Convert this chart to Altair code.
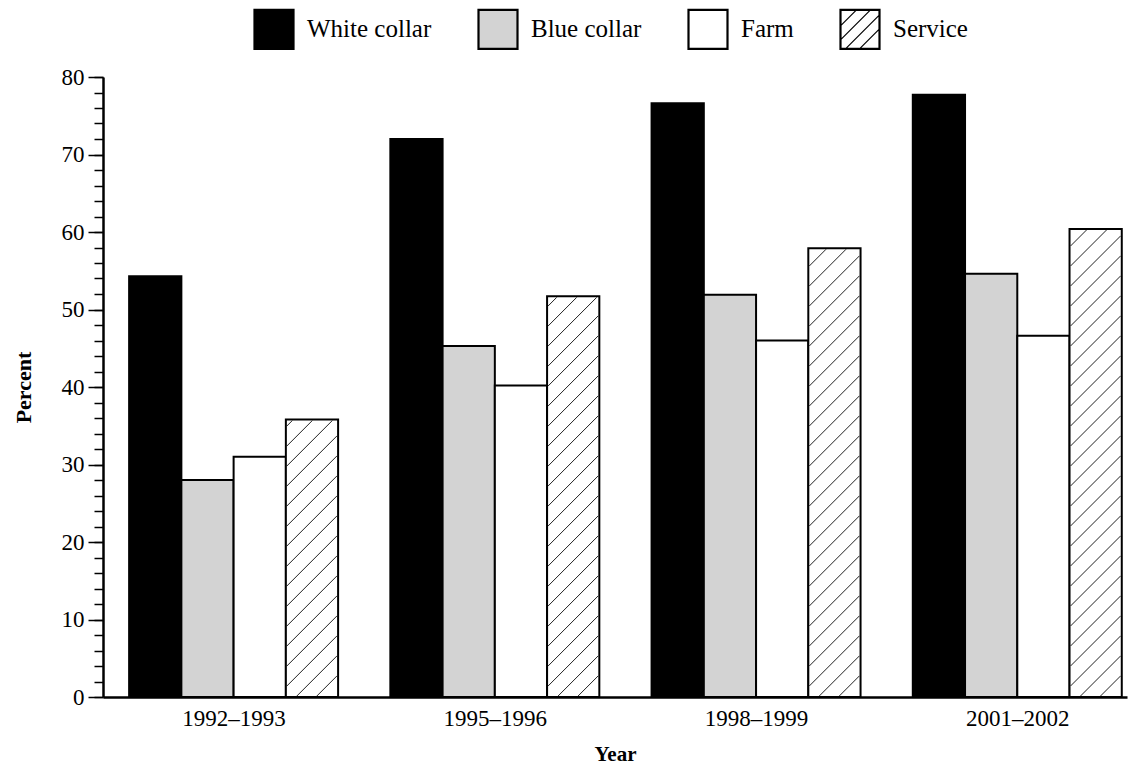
import altair as alt
import pandas as pd

# ---- data ----
years = ["1992–1993", "1995–1996", "1998–1999", "2001–2002"]
categories = ["White collar", "Blue collar", "Farm", "Service"]
white_collar = [54.3, 72.0, 76.6, 77.7]
blue_collar = [28.0, 45.3, 51.9, 54.6]
farm = [31.0, 40.2, 46.0, 46.6]
service = [35.8, 51.7, 57.9, 60.4]
y_major = list(range(0, 81, 10))
y_minor = list(range(0, 81, 2))

# ---- styling / layout ----
FONT = "Liberation Serif"
colors = ["#000000", "#d3d3d3", "#ffffff", "#ffffff"]
W, H = 1024, 620
x_domain = [-0.5, 3.42]
y_domain = [0, 80]
bar_w = 0.2
px_x = W / (x_domain[1] - x_domain[0])
px_y = H / (y_domain[1] - y_domain[0])

series = [white_collar, blue_collar, farm, service]
rows = []
for i, yr in enumerate(years):
    for j, cat in enumerate(categories):
        x0 = i + (j - 2) * bar_w
        rows.append(dict(year=yr, category=cat, value=series[j][i], x0=x0, x1=x0 + bar_w))
df = pd.DataFrame(rows)

# hatch lines for the Service bars (45 degrees in pixel space), derived from the bar values
spacing, phase, inset = 20.0, -10.0, 1.0
hatch = []
svc = df[df["category"] == "Service"]
for _, r in svc.iterrows():
    Wb = (r["x1"] - r["x0"]) * px_x
    Hb = r["value"] * px_y
    for n in range(-20, 60):
        k = phase + spacing * n
        xa = max(inset, inset - k)
        xb = min(Wb - inset, Hb - inset - k)
        if xb - xa > 0.5:
            hatch.append(dict(xa=r["x0"] + xa / px_x, ya=(xa + k) / px_y,
                              xb=r["x0"] + xb / px_x, yb=(xb + k) / px_y))
hatch_df = pd.DataFrame(hatch)

# legend symbol shapes: double-outlined squares, Service with hatching
square = "M-1,-1H1V1H-1Z M-0.95,-0.95H0.95V0.95H-0.95Z"
hl = []
for c in [-1.15, -0.45, 0.25, 0.95]:
    if c <= 0:
        hl.append(f"M-1,{c + 1:.2f}L{c + 1:.2f},-1")
    else:
        hl.append(f"M{c - 1:.2f},1L1,{c - 1:.2f}")
shapes = [square, square, square, square + " " + " ".join(hl)]

label_expr = "".join(f"datum.value == {i} ? '{y}' : " for i, y in enumerate(years)) + "''"
color_expr = "".join(f"datum.category == '{c}' ? '{col}' : " for c, col in zip(categories, colors)) + "'#ffffff'"

x_scale = alt.Scale(domain=x_domain, nice=False, zero=False)
y_scale = alt.Scale(domain=y_domain, nice=False)

x_axis = alt.Axis(values=[0, 1, 2, 3], labelExpr=label_expr, ticks=False,
                  grid=False, title="Year", labelFont=FONT, labelFontSize=23,
                  labelColor="black", labelPadding=10, labelAngle=0,
                  domainColor="black", domainWidth=2.5,
                  titleFont=FONT, titleFontSize=21, titleFontWeight="bold",
                  titleColor="black", titlePadding=13)
y_axis = alt.Axis(values=y_major, orient="left", tickSize=15, grid=False,
                  labelFont=FONT, labelFontSize=23,
                  labelColor="black", labelPadding=4, tickColor="black", tickWidth=1.5,
                  domainColor="black", domainWidth=2.5, title="Percent",
                  titleFont=FONT, titleFontSize=22, titleFontWeight="bold",
                  titleColor="black", titlePadding=26)
y_minor_axis = alt.Axis(values=y_minor, orient="left", tickSize=9, grid=False,
                        labels=False, domain=False, title=None,
                        tickColor="black", tickWidth=1.5)

bars = alt.Chart(df).transform_calculate(barfill=color_expr).mark_bar(
    stroke="black", strokeWidth=2).encode(
    x=alt.X("x0:Q", scale=x_scale, axis=x_axis),
    x2="x1:Q",
    y=alt.Y("value:Q", scale=y_scale, axis=y_axis, stack=None),
    y2=alt.datum(0),
    fill=alt.Fill("barfill:N", scale=None),
)

hatch_layer = alt.Chart(hatch_df).mark_rule(stroke="#222222", strokeWidth=1).encode(
    x=alt.X("xa:Q", scale=x_scale, axis=x_axis),
    x2="xb:Q",
    y=alt.Y("ya:Q", scale=y_scale, axis=y_minor_axis),
    y2="yb:Q",
)

leg = dict(orient="none", legendX=150, legendY=-69, direction="horizontal", title=None,
           symbolSize=1600, symbolStrokeWidth=1.2, symbolStrokeColor="black",
           symbolOpacity=1, labelFont=FONT, labelFontSize=25, labelColor="black",
           labelOffset=12, columnPadding=43, padding=0)

legend_layer = alt.Chart(df).transform_filter("false").mark_point(
    filled=True, opacity=1, stroke="black", strokeWidth=1.2).encode(
    x=alt.X("x0:Q", scale=x_scale, axis=x_axis),
    y=alt.Y("value:Q", scale=y_scale, axis=None),
    fill=alt.Fill("category:N", scale=alt.Scale(domain=categories, range=colors),
                  legend=alt.Legend(**leg)),
    shape=alt.Shape("category:N", scale=alt.Scale(domain=categories, range=shapes),
                    legend=alt.Legend(**leg)),
)

chart = alt.layer(bars, hatch_layer, legend_layer).resolve_axis(y="independent").properties(
    width=W, height=H,
    padding={"left": 95, "top": 69, "right": 3, "bottom": 69},
    autosize=alt.AutoSizeParams(type="none"),
    background="white",
).configure_view(stroke=None)

chart.save("out.html", embed_options={"renderer": "svg", "actions": False})
